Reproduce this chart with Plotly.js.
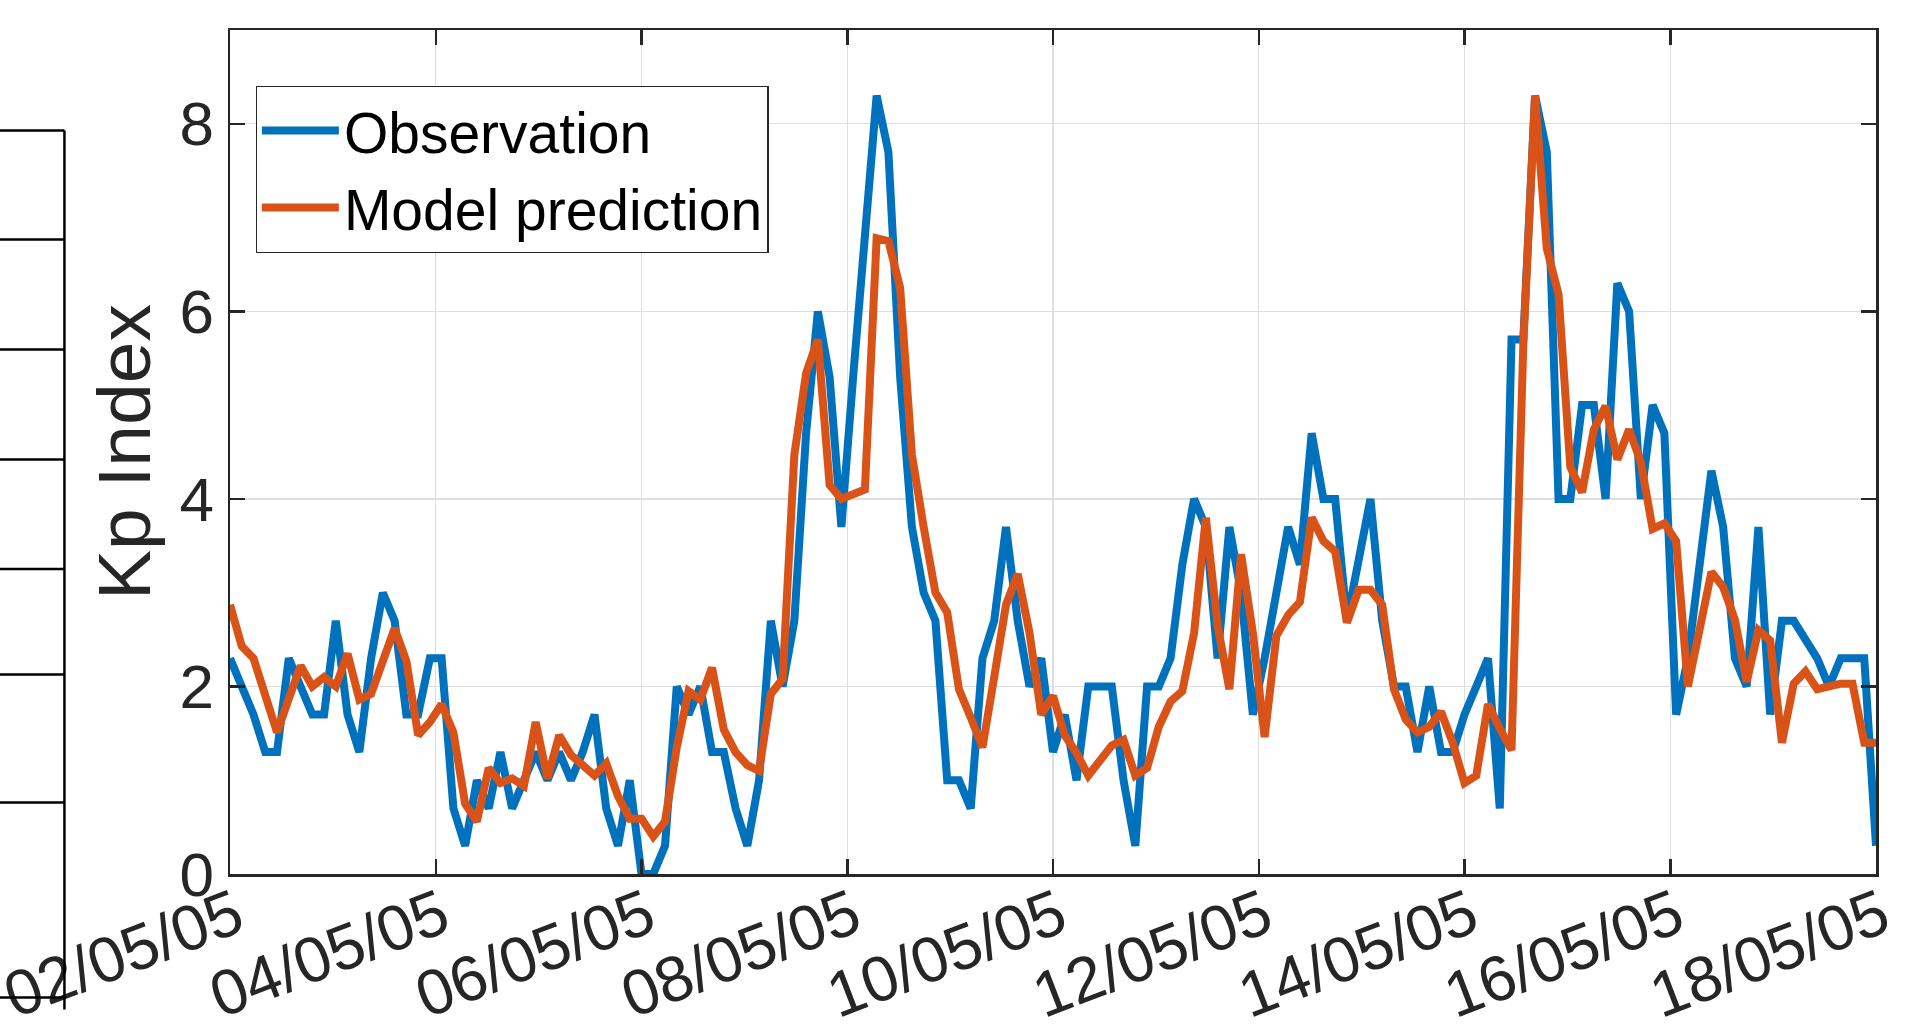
<!DOCTYPE html>
<html>
<head>
<meta charset="utf-8">
<script src="https://cdn.plot.ly/plotly-3.0.1.min.js"></script>
<style>
  html, body { margin: 0; padding: 0; background: #ffffff; }
  #chart { width: 1915px; height: 1031px; }
</style>
</head>
<body>
<div id="chart"></div>
<script>
// ---- data (141 samples evenly spaced between 02/05/05 and 18/05/05) ----
const startDate = Date.UTC(2005, 4, 2);
const endDate = Date.UTC(2005, 4, 18);

const observation = [
  2.3, 2.0, 1.7, 1.3, 1.3, 2.3, 2.0, 1.7, 1.7, 2.7,
  1.7, 1.3, 2.3, 3.0, 2.7, 1.7, 1.7, 2.3, 2.3, 0.7,
  0.3, 1.0, 0.7, 1.3, 0.7, 1.0, 1.3, 1.0, 1.3, 1.0,
  1.3, 1.7, 0.7, 0.3, 1.0, 0.0, 0.0, 0.3, 2.0, 1.7,
  2.0, 1.3, 1.3, 0.7, 0.3, 1.0, 2.7, 2.0, 2.7, 4.7,
  6.0, 5.3, 3.7, 5.3, 6.7, 8.3, 7.7, 5.3, 3.7, 3.0,
  2.7, 1.0, 1.0, 0.7, 2.3, 2.7, 3.7, 2.7, 2.0, 2.3,
  1.3, 1.7, 1.0, 2.0, 2.0, 2.0, 1.0, 0.3, 2.0, 2.0,
  2.3, 3.3, 4.0, 3.7, 2.3, 3.7, 3.0, 1.7, 2.3, 3.0,
  3.7, 3.3, 4.7, 4.0, 4.0, 2.7, 3.3, 4.0, 2.7, 2.0,
  2.0, 1.3, 2.0, 1.3, 1.3, 1.7, 2.0, 2.3, 0.7, 5.7,
  5.7, 8.3, 7.7, 4.0, 4.0, 5.0, 5.0, 4.0, 6.3, 6.0,
  4.0, 5.0, 4.7, 1.7, 2.3, 3.3, 4.3, 3.7, 2.3, 2.0,
  3.7, 1.7, 2.7, 2.7, 2.5, 2.3, 2.0, 2.3, 2.3, 2.3,
  0.3
];

const prediction = [
  2.87, 2.43, 2.30, 1.90, 1.51, 1.87, 2.22, 2.00, 2.10, 2.00,
  2.35, 1.86, 1.92, 2.27, 2.62, 2.27, 1.48, 1.62, 1.81, 1.51,
  0.75, 0.56, 1.13, 0.97, 1.02, 0.94, 1.62, 1.02, 1.48, 1.27,
  1.16, 1.05, 1.18, 0.83, 0.59, 0.59, 0.40, 0.56, 1.35, 1.95,
  1.86, 2.20, 1.54, 1.30, 1.16, 1.10, 1.92, 2.08, 4.47, 5.34,
  5.70, 4.15, 4.00, 4.05, 4.10, 6.78, 6.75, 6.25, 4.47, 3.70,
  3.00, 2.79, 1.97, 1.67, 1.35, 2.10, 2.87, 3.20, 2.57, 1.70,
  1.90, 1.48, 1.29, 1.05, 1.20, 1.37, 1.43, 1.05, 1.13, 1.57,
  1.84, 1.95, 2.57, 3.80, 2.65, 1.97, 3.41, 2.57, 1.46, 2.54,
  2.76, 2.90, 3.80, 3.55, 3.44, 2.68, 3.03, 3.03, 2.87, 1.97,
  1.65, 1.51, 1.57, 1.73, 1.40, 0.97, 1.05, 1.81, 1.55, 1.32,
  5.64, 8.30, 6.67, 6.18, 4.34, 4.07, 4.74, 4.99, 4.42, 4.74,
  4.39, 3.68, 3.74, 3.55, 2.00, 2.60, 3.22, 3.06, 2.71, 2.05,
  2.60, 2.49, 1.40, 2.03, 2.16, 1.97, 2.00, 2.03, 2.03, 1.40,
  1.40
];

const tickValues = ['2005-05-02', '2005-05-04', '2005-05-06', '2005-05-08', '2005-05-10',
                    '2005-05-12', '2005-05-14', '2005-05-16', '2005-05-18'];
const tickLabels = ['02/05/05', '04/05/05', '06/05/05', '08/05/05', '10/05/05',
                    '12/05/05', '14/05/05', '16/05/05', '18/05/05'];
const yTicks = [0, 2, 4, 6, 8];

// time stamps: regular grid across the axis range
const nPts = observation.length;
const times = observation.map(function (_, i) {
  const t = startDate + i * (endDate - startDate) / (nPts - 1);
  return new Date(t).toISOString().replace('Z', '');
});

const FONT = 'Liberation Sans, Arial, Helvetica, sans-serif';
const AX = '#262626';

const traces = [
  { x: times, y: observation, type: 'scatter', mode: 'lines', name: 'Observation',
    line: { color: '#0072BD', width: 8, shape: 'linear' } },
  { x: times, y: prediction, type: 'scatter', mode: 'lines', name: 'Model prediction',
    line: { color: '#D95319', width: 8, shape: 'linear' } }
];

// decoration: edge of a neighbouring (cropped) panel on the far left
const px = v => (v - 229.6) / 1646.4;
const py = v => (874.5 - v) / 844;
const frameYs = [131, 240, 350, 460, 569.5, 675, 803, 998];
const shapes = [
  { type: 'line', xref: 'paper', yref: 'paper', x0: px(64), x1: px(64), y0: py(131), y1: py(1010),
    line: { color: '#000', width: 2.5 } }
].concat(frameYs.map(v => ({
  type: 'line', xref: 'paper', yref: 'paper', x0: px(-2), x1: px(64), y0: py(v), y1: py(v),
  line: { color: '#000', width: 2.5 }
})));

const layout = {
  width: 1915, height: 1031,
  margin: { l: 230, r: 39, t: 30, b: 157, pad: 0 },
  paper_bgcolor: '#ffffff', plot_bgcolor: '#ffffff',
  font: { family: FONT, color: AX },
  showlegend: true,
  legend: {
    x: 0.0156, y: 0.934, xanchor: 'left', yanchor: 'top',
    bgcolor: '#ffffff', bordercolor: AX, borderwidth: 1.2,
    font: { family: FONT, size: 57, color: '#000000' },
    itemwidth: 77, tracegroupgap: 0
  },
  xaxis: {
    type: 'date',
    range: ['2005-05-02', '2005-05-18'],
    tickmode: 'array', tickvals: tickValues, ticktext: tickLabels,
    tickangle: -21,
    tickfont: { family: FONT, size: 64, color: AX },
    ticks: 'inside', ticklen: 15, tickwidth: 2.5, tickcolor: AX,
    showline: true, linecolor: AX, linewidth: 2.5, mirror: 'ticks',
    showgrid: true, gridcolor: '#dedede', gridwidth: 1.3,
    zeroline: false, automargin: false,
    ticklabelstandoff: -22, ticklabelshift: 6, ticklabeloverflow: 'allow'
  },
  yaxis: {
    range: [0, 9],
    tickmode: 'array', tickvals: yTicks, ticktext: yTicks.map(String),
    tickfont: { family: FONT, size: 62, color: AX },
    ticks: 'inside', ticklen: 15, tickwidth: 2.5, tickcolor: AX,
    showline: true, linecolor: AX, linewidth: 2.5, mirror: 'ticks',
    showgrid: true, gridcolor: '#dedede', gridwidth: 1.3,
    zeroline: false, automargin: false, ticklabelstandoff: 1,
    title: { text: 'Kp Index', font: { family: FONT, size: 75, color: AX }, standoff: 5 }
  },
  shapes: shapes
};

Plotly.newPlot('chart', traces, layout, { staticPlot: true, displayModeBar: false });
</script>
</body>
</html>
